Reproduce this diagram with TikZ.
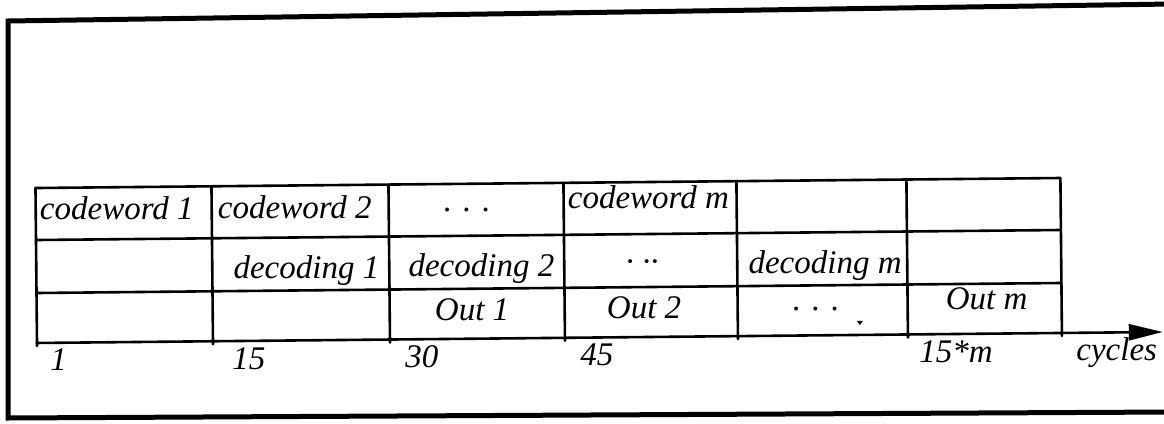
\documentclass[tikz,border=0pt]{standalone}
\usepackage{fontspec}
\setmainfont{Liberation Serif}
\usetikzlibrary{arrows.meta}
\begin{document}
\begin{tikzpicture}[x=1pt,y=-1pt,
  grid/.style={line width=2.6pt, line cap=round},
  frameline/.style={line width=5pt},
  lbl/.style={anchor=base west, inner sep=0pt, font=\fontsize{33}{33}\selectfont\itshape},
]
\useasboundingbox (0,0) rectangle (1164,423);
% outer frame (open on the right)
\draw[frameline] (1172,4) -- (8,21) -- (8,418) -- (1172,412);
\begin{scope}[rotate around={0.56:(37,343)}]
  % timing grid: three rows, six slots
  \foreach \y in {188,240,293} \draw[grid] (37,\y) -- (1062,\y);
  \foreach \x in {37,213,390,565,738,908,1062} \draw[grid] (\x,188) -- (\x,346);
  % time axis
  \coordinate (t0) at (37,343);
  \coordinate (t1) at (1163,343);
  \draw[grid, -{Triangle[length=34pt,width=16pt]}] (t0) -- (t1);
  % row 1: receiving codewords
  \node[lbl] (cw1) at (41,220) {codeword 1};
  \node[lbl] (cw2) at (219,220) {codeword 2};
  \node[lbl] (cwd) at (445,215) {. . .};
  \node[lbl] (cwm) at (569,214) {codeword m};
  % row 2: decoding
  \node[lbl] (dc1) at (234,280) {decoding 1};
  \node[lbl] (dc2) at (409,280) {decoding 2};
  \node[lbl] (dcd) at (626,278) {· ··};
  \node[lbl] (dcm) at (749,280) {decoding m};
  % row 3: output
  \node[lbl] (ou1) at (435,324) {Out 1};
  \node[lbl] (ou2) at (607,324) {Out 2};
  \node[lbl] (oud) at (793,318) {.\,\,.\,\,.};
  \node[lbl] (oum) at (946,318) {Out m};
  \fill (857,329) -- (863,329) -- (860,333) -- cycle;
  % axis labels
  \node[lbl] (c1) at (50,371) {1};
  \node[lbl] (c15) at (232,371) {15};
  \node[lbl] (c30) at (405,371) {30};
  \node[lbl] (c45) at (580,371) {45};
  \node[lbl] (c15m) at (919,371) {15*m};
  \node[lbl] (cyc) at (1076,371) {cycles};
\end{scope}
\end{tikzpicture}
\end{document}
